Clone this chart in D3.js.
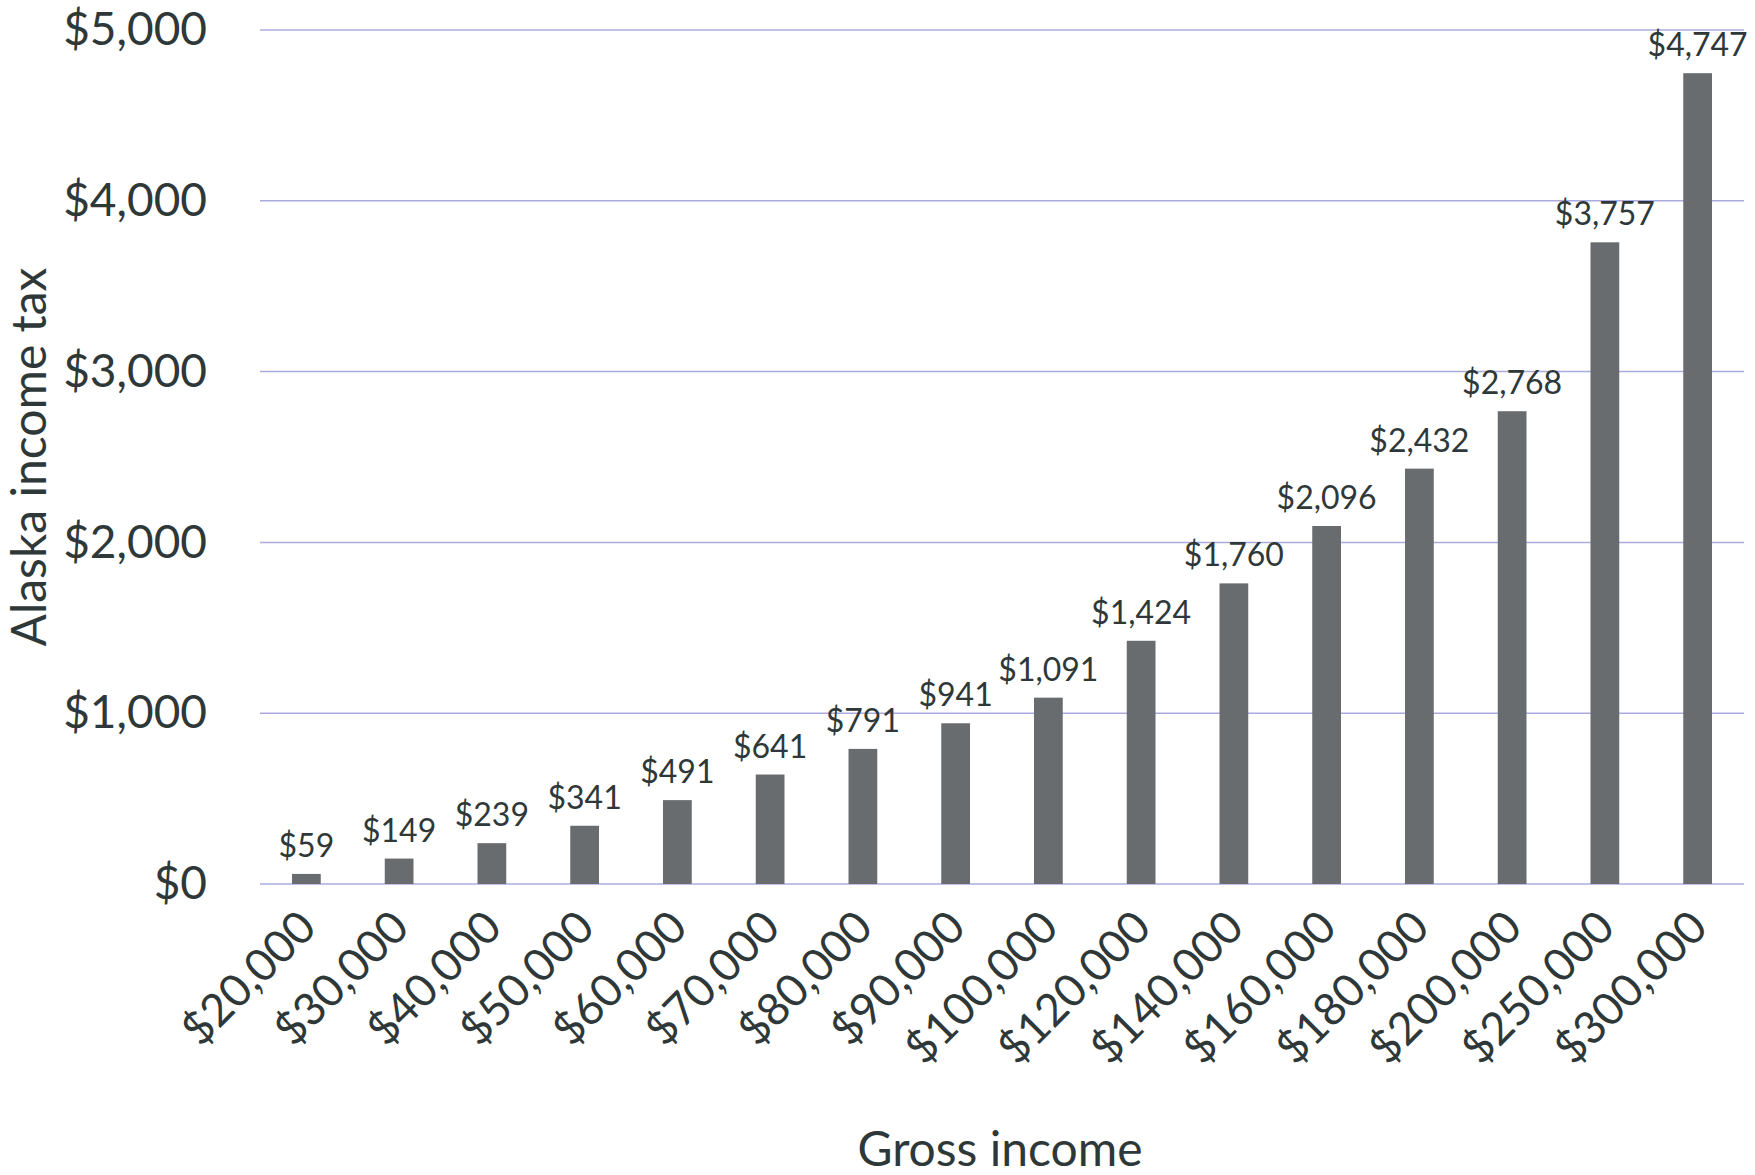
<!DOCTYPE html>
<html>
<head>
<meta charset="utf-8">
<script src="https://cdn.jsdelivr.net/npm/d3@7"></script>
<style>
  html, body { margin: 0; padding: 0; background: #fff; }
  svg { display: block; font-family: Lato, "Open Sans", sans-serif; }
</style>
</head>
<body>
<div id="chart"></div>
<script>
// Gross income brackets and the Alaska income tax for each
const incomes = [20000, 30000, 40000, 50000, 60000, 70000, 80000, 90000,
  100000, 120000, 140000, 160000, 180000, 200000, 250000, 300000];
const taxes = [59, 149, 239, 341, 491, 641, 791, 941,
  1091, 1424, 1760, 2096, 2432, 2768, 3757, 4747];
const yTicks = [0, 1000, 2000, 3000, 4000, 5000];

const W = 1755;
const H = 1175;
const plot = { left: 260, right: 1744, top: 30, bottom: 884 };

const money = d3.format('$,');
const textColor = '#2f3838';

const svg = d3
  .select('#chart')
  .append('svg')
  .attr('width', W)
  .attr('height', H);

// Scales
const x = d3
  .scaleBand()
  .domain(incomes)
  .range([plot.left, plot.right])
  .paddingInner(0.69)
  .paddingOuter(0.345);

const y = d3.scaleLinear().domain([0, 5000]).range([plot.bottom, plot.top]);

// Gridlines
svg
  .append('g')
  .selectAll('line')
  .data(yTicks)
  .join('line')
  .attr('x1', plot.left)
  .attr('x2', plot.right)
  .attr('y1', (d) => y(d))
  .attr('y2', (d) => y(d))
  .attr('stroke', '#ababe0')
  .attr('stroke-width', 1.5);

// Y axis labels
const yAxis = svg
  .append('g')
  .attr('transform', `translate(${plot.left - 50},0)`)
  .call(d3.axisLeft(y).tickValues(yTicks).tickFormat(money).tickSize(0))
  .call((g) => g.select('.domain').remove());

yAxis
  .selectAll('text')
  .attr('fill', textColor)
  .attr('font-size', 46)
  .attr('font-family', 'Lato, sans-serif');

// X axis labels, rotated
const xAxis = svg
  .append('g')
  .attr('transform', `translate(0,${plot.bottom})`)
  .call(d3.axisBottom(x).tickFormat(money).tickSize(0))
  .call((g) => g.select('.domain').remove());

xAxis
  .selectAll('text')
  .attr('fill', textColor)
  .attr('font-size', 45)
  .attr('font-family', 'Lato, sans-serif')
  .attr('text-anchor', 'end')
  .attr('y', 0)
  .attr('dy', 0)
  .attr('transform', 'translate(12,46) rotate(-45)');

// Bars
svg
  .append('g')
  .selectAll('rect')
  .data(taxes)
  .join('rect')
  .attr('x', (d, i) => x(incomes[i]))
  .attr('width', x.bandwidth())
  .attr('y', (d) => y(d))
  .attr('height', (d) => y(0) - y(d))
  .attr('fill', '#686c6f');

// Value labels
svg
  .append('g')
  .selectAll('text')
  .data(taxes)
  .join('text')
  .attr('x', (d, i) => x(incomes[i]) + x.bandwidth() / 2)
  .attr('y', (d) => y(d) - 17)
  .attr('text-anchor', 'middle')
  .attr('font-size', 32)
  .attr('fill', textColor)
  .text((d) => money(d));

// Axis titles
svg
  .append('text')
  .attr('transform', `translate(46,${(plot.top + plot.bottom) / 2}) rotate(-90)`)
  .attr('text-anchor', 'middle')
  .attr('font-size', 48)
  .attr('fill', textColor)
  .text('Alaska income tax');

svg
  .append('text')
  .attr('x', 1000)
  .attr('y', 1166)
  .attr('text-anchor', 'middle')
  .attr('font-size', 48)
  .attr('fill', textColor)
  .text('Gross income');
</script>
</body>
</html>
